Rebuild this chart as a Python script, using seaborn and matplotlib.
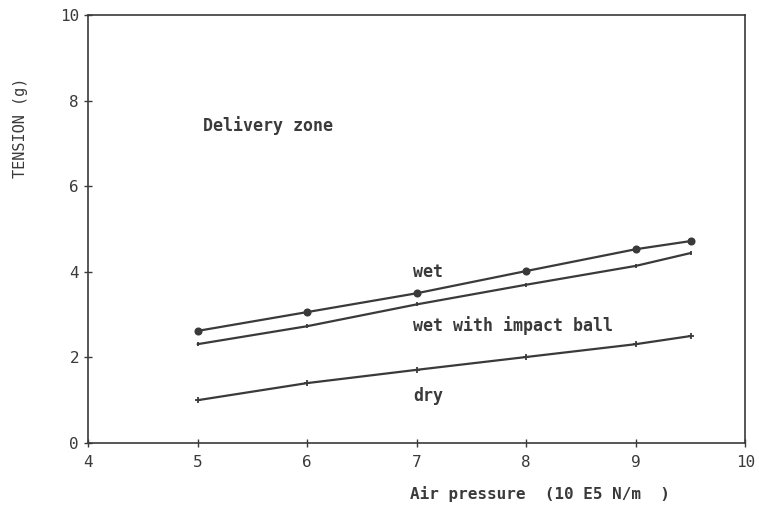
import numpy as np
import pandas as pd
import matplotlib
matplotlib.use("Agg")
import matplotlib.pyplot as plt
import seaborn as sns

# Air pressure (10 E5 N/m2)
pressure = [5, 6, 7, 8, 9, 9.5]

tension_wet = [2.62, 3.06, 3.50, 4.02, 4.53, 4.72]
tension_wet_impact = [2.31, 2.73, 3.24, 3.70, 4.14, 4.44]
tension_dry = [1.00, 1.40, 1.71, 2.01, 2.31, 2.50]

# name -> (values, marker, marker size)
series = {
    "wet": (tension_wet, "o", 4.5),
    "wet with impact ball": (tension_wet_impact, "|", 3.5),
    "dry": (tension_dry, "+", 5),
}

sns.set_theme(style="white")
plt.rcParams['font.family'] = ['DejaVu Sans Mono']
ink = "#3a3a3a"

fig = plt.figure(figsize=(7.59, 5.08), dpi=100)
ax = fig.add_axes([0.116, 0.128, 0.866, 0.842])

for name, (vals, mk, ms) in series.items():
    sns.lineplot(x=pressure, y=vals, color=ink, marker=mk,
                 markersize=ms, markeredgewidth=1.3,
                 markeredgecolor=ink, markerfacecolor=ink,
                 linewidth=1.6, ax=ax)

ax.set_xlim(4, 10)
ax.set_ylim(0, 10)
ax.set_xticks([4, 5, 6, 7, 8, 9, 10])
ax.set_yticks([0, 2, 4, 6, 8, 10])
ax.tick_params(direction="inout", length=6, width=1, colors=ink, labelsize=11.5,
               bottom=True, left=True)
ax.tick_params(axis="x", pad=6)
for s in ax.spines.values():
    s.set_color(ink)
    s.set_linewidth(1.2)

ax.set_xlabel("Air pressure  (10 E5 N/m  )", fontsize=11.5, color=ink, weight="bold")
ax.xaxis.set_label_coords(0.688, -0.1)
ax.set_ylabel("TENSION (g)", fontsize=11, color=ink)
ax.yaxis.set_label_coords(-0.092, 0.736)

txt = dict(fontsize=12, color=ink, weight="bold", va="center")
ax.text(6.97, 4.0, "wet", **txt)
ax.text(6.97, 2.75, "wet with impact ball", **txt)
ax.text(6.97, 1.1, "dry", **txt)
ax.text(5.05, 7.43, "Delivery zone", **txt)

plt.savefig("out.png", dpi=100)
plt.close()
